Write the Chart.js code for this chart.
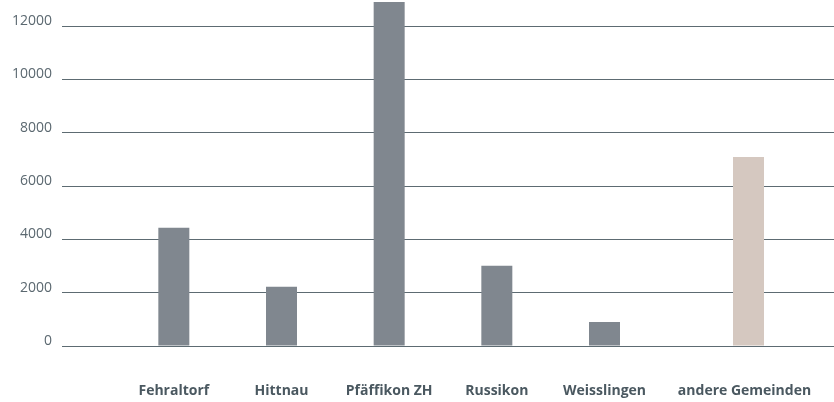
<!DOCTYPE html>
<html>
<head>
<meta charset="utf-8">
<script src="https://cdn.jsdelivr.net/npm/chart.js@4.4.1/dist/chart.umd.min.js"></script>
<style>
  html, body { margin: 0; padding: 0; background: #ffffff; }
  #wrap { width: 834px; height: 402px; position: relative; }
</style>
</head>
<body>
<div id="wrap"><canvas id="c"></canvas></div>
<script>
const categories = ['Fehraltorf', 'Hittnau', 'Pfäffikon ZH', 'Russikon', 'Weisslingen', 'andere Gemeinden'];
const municipalValues = [4430, 2220, 12900, 3010, 900, 0];
const otherValues = [null, null, null, null, null, 7090];
const yTicks = [0, 2000, 4000, 6000, 8000, 10000, 12000];

const yMax = 12900;
const gridColor = '#5d6b72';

const shiftLastLabel = {
  id: 'shiftLastLabel',
  beforeDraw(chart) {
    const xs = chart.scales.x;
    const items = xs.getLabelItems();
    const last = items[items.length - 1];
    const bar = chart.getDatasetMeta(1).data[categories.length - 1];
    if (last && bar && !last._shifted) {
      last.options.translation[0] = bar.x - 4;
      last._shifted = true;
    }
  }
};

new Chart(document.getElementById('c'), {
  type: 'bar',
  data: {
    labels: categories,
    datasets: [
      {
        label: 'Gemeinden',
        data: municipalValues,
        backgroundColor: '#80878f',
        borderWidth: 0
      },
      {
        label: 'andere Gemeinden',
        data: otherValues,
        backgroundColor: '#d5c8c0',
        borderWidth: 0
      }
    ]
  },
  options: {
    responsive: true,
    maintainAspectRatio: false,
    animation: false,
    skipNull: true,
    categoryPercentage: 1.35,
    barPercentage: 1,
    maxBarThickness: 31,
    layout: { padding: { top: 2, left: 0, right: 0, bottom: 0 } },
    plugins: {
      legend: { display: false },
      tooltip: { enabled: false }
    },
    scales: {
      x: {
        grid: { display: false },
        border: { display: false },
        ticks: {
          padding: 29,
          maxRotation: 0,
          autoSkip: false,
          color: '#4a5860',
          font: { family: 'Open Sans', size: 14, weight: 'bold' }
        },
        afterFit(scale) {
          scale.height = 56;
          scale.paddingLeft = 0;
          scale.paddingRight = 0;
        }
      },
      y: {
        position: 'left',
        min: 0,
        max: yMax,
        afterBuildTicks(scale) {
          scale.ticks = yTicks.map(v => ({ value: v }));
        },
        grid: {
          color: gridColor,
          lineWidth: 1,
          drawTicks: true,
          tickLength: 58
        },
        border: { display: false },
        ticks: {
          padding: 10,
          labelOffset: -5,
          color: '#5b6870',
          font: { family: 'Open Sans', size: 14 },
          callback: (v) => String(v)
        },
        afterFit(scale) {
          scale.width = 120;
          scale.paddingTop = 0;
          scale.paddingBottom = 0;
        }
      },
      y2: {
        type: 'linear',
        position: 'right',
        min: 0,
        max: yMax,
        afterBuildTicks(scale) {
          scale.ticks = yTicks.map(v => ({ value: v }));
        },
        grid: {
          color: gridColor,
          lineWidth: 1,
          drawOnChartArea: false,
          drawTicks: true,
          tickLength: 68
        },
        border: { display: false },
        ticks: { display: false },
        afterFit(scale) {
          scale.width = 68;
          scale.paddingTop = 0;
          scale.paddingBottom = 0;
        }
      }
    }
  },
  plugins: [shiftLastLabel]
});
</script>
</body>
</html>
